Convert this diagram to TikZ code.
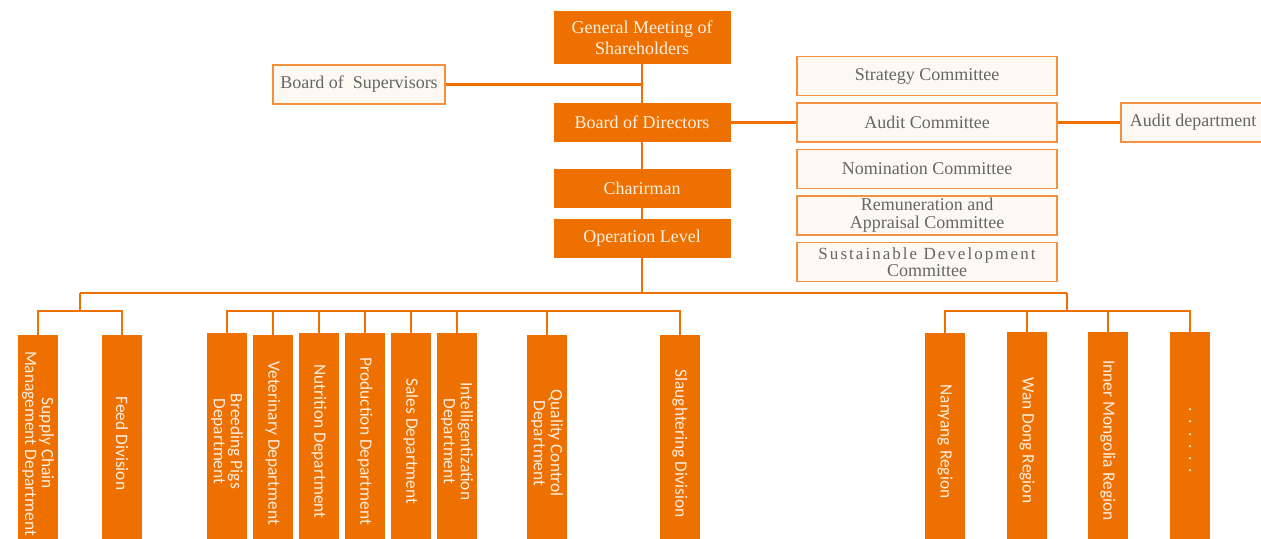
\documentclass[tikz,border=0pt]{standalone}
\usepackage{fontspec}
\setmainfont{Liberation Serif}
\newfontfamily\vsans{Carlito}
\definecolor{orng}{HTML}{EE7000}
\definecolor{lbord}{HTML}{F29240}
\definecolor{lfill}{HTML}{FEF8F3}
\definecolor{ltext}{HTML}{FFF0E2}
\definecolor{gtext}{HTML}{666666}
\begin{document}
\begin{tikzpicture}[x=0.5pt,y=-0.5pt,
 obox/.style={fill=orng, draw=none, text=ltext, minimum width=88.5pt, minimum height=19.5pt, align=center, font=\fontsize{9}{10.5}\selectfont, inner sep=0pt},
 wbox/.style={fill=lfill, draw=lbord, line width=0.6pt, text=gtext, align=center, font=\fontsize{9}{9}\selectfont, inner sep=0pt, minimum height=19.5pt},
 cbox/.style={wbox, minimum width=130pt},
 vbox/.style={fill=orng, text=ltext, rotate=-90, anchor=west, minimum width=108pt, minimum height=20pt, inner sep=0pt, align=center, font=\vsans\fontsize{8.7}{8.4}\selectfont},
 conn/.style={draw=orng, line width=1.2pt}]
\clip (0,0) rectangle (1261,539);
\fill[white] (0,0) rectangle (1261,539);
% top column
\node[obox, minimum height=26.5pt] (gms) at (642,37.5) {General Meeting of\\Shareholders};
\node[obox] (bod) at (642,122.5) {Board of Directors};
\node[obox] (chair) at (642,188.5) {Charirman};
\node[obox] (op) at (642,238.5) {Operation Level};
\node[wbox, minimum width=86pt] (sup) at (359,84.5) {Board of\ \ Supervisors};
% committees
\node[cbox] (strat) at (927,76) {Strategy Committee};
\node[cbox] (audit) at (927,122.5) {Audit Committee};
\node[cbox] (nom) at (927,169) {Nomination Committee};
\node[cbox] (rem) at (927,215.5) {Remuneration and\\Appraisal Committee};
\node[cbox, font=\fontsize{9}{7.5}\selectfont] (sus) at (927,262) {{\fontsize{8.5}{7.5}\selectfont\addfontfeature{LetterSpace=12}Sustainable Development}\\Committee};
\node[wbox, minimum width=72pt] (adept) at (1193,122.5) {Audit department};
% top connectors
\coordinate (supj) at (642,84.5);
\draw[conn] (gms.south) -- (bod.north);
\draw[conn] (sup.east) -- (supj);
\draw[conn] (bod.east) -- (audit.west);
\draw[conn] (audit.east) -- (adept.west);
\draw[conn] (bod.south) -- (chair.north);
\draw[conn] (chair.south) -- (op.north);
\coordinate (opj) at (642,293);
\draw[conn] (op.south) -- (opj);
% bottom boxes
\node[vbox] (sc) at (38,335) {Supply Chain\\Management Department};
\node[vbox] (fd) at (122,335) {Feed Division};
\node[vbox] (bp) at (227,333) {Breeding Pigs\\Department};
\node[vbox] (vt) at (273,335) {Veterinary Department};
\node[vbox] (nu) at (319,333) {Nutrition Department};
\node[vbox] (pr) at (365,333) {Production Department};
\node[vbox] (sa) at (411,333) {Sales Department};
\node[vbox] (it) at (457,333) {Intelligentization\\Department};
\node[vbox] (qc) at (547,335) {Quality Control\\Department};
\node[vbox] (sl) at (680,335) {Slaughtering Division};
\node[vbox] (ny) at (945,333) {Nanyang Region};
\node[vbox] (wd) at (1027,332) {Wan Dong Region};
\node[vbox] (im) at (1108,332) {Inner Mongolia Region};
\node[vbox] (dt) at (1190,332) {.\ \ .\ \ .\ \ .\ \ .\ \ .};
% main line
\coordinate (m1) at (80,293);
\coordinate (m3) at (1067,293);
\draw[conn] (m1) -- (m3);
% group 1
\coordinate (g1) at (80,311);
\draw[conn] (m1) -- (g1);
\draw[conn] (sc.west) |- (g1) -| (fd.west);
% group 2
\coordinate (g2) at (400,311);
\draw[conn] (bp.west) |- (g2) -| (sl.west);
\foreach \n in {vt,nu,pr,sa,it,qc} \draw[conn] (\n.west) -- (\n.west |- g2);
% group 3
\coordinate (g3) at (1067,311);
\draw[conn] (m3) -- (g3);
\draw[conn] (ny.west) |- (g3) -| (dt.west);
\foreach \n in {wd,im} \draw[conn] (\n.west) -- (\n.west |- g3);
\end{tikzpicture}
\end{document}
